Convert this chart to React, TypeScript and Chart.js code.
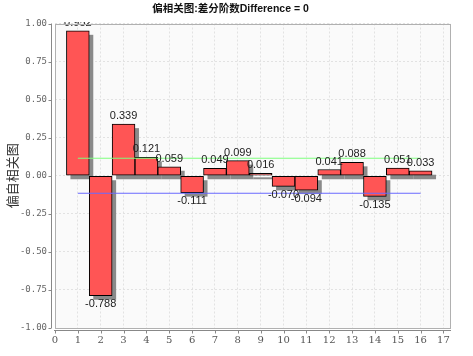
import React, { useEffect, useRef } from "react";
import { Chart, registerables } from "chart.js";

Chart.register(...registerables);

const TITLE = "偏相关图:差分阶数Difference = 0";
const Y_TITLE = "偏自相关图";

const lags = [1, 2, 3, 4, 5, 6, 7, 8, 9, 10, 11, 12, 13, 14, 15, 16];
const pacf = [0.952, -0.788, 0.339, 0.121, 0.059, -0.111, 0.049, 0.099, 0.016, -0.07, -0.094, 0.041, 0.088, -0.135, 0.051, 0.033];
const upperBound = 0.115;
const lowerBound = -0.115;
const boundLags = [1, 16];

const xMin = 0;
const xMax = 17.33;
const yMin = -1;
const yMax = 1;
const yStep = 0.25;

const bgPlugin = {
  id: "bgPlugin",
  beforeDraw(chart: any) {
    const { ctx, chartArea: a, width, height } = chart;
    ctx.save();
    ctx.fillStyle = "#ffffff";
    ctx.fillRect(0, 0, width, height);
    ctx.fillStyle = "#fafafa";
    ctx.fillRect(a.left, a.top, a.right - a.left, a.bottom - a.top);
    ctx.restore();
  },
};

const shadowPlugin = {
  id: "shadowPlugin",
  beforeDatasetDraw(chart: any, args: any) {
    if (args.index !== 0) return;
    const { ctx, chartArea: a } = chart;
    const meta = chart.getDatasetMeta(0);
    ctx.save();
    ctx.beginPath();
    ctx.rect(a.left, a.top, a.right - a.left + 6, a.bottom - a.top + 6);
    ctx.clip();
    ctx.fillStyle = "#8a8a8a";
    meta.data.forEach((el: any) => {
      const p = el.getProps(["x", "y", "base", "width"], true);
      const left = p.x - p.width / 2;
      const top = Math.min(p.y, p.base);
      const h = Math.abs(p.base - p.y);
      ctx.fillRect(left + 4, top + 4, p.width, h);
    });
    ctx.restore();
  },
};

const labelPlugin = {
  id: "labelPlugin",
  afterDatasetsDraw(chart: any) {
    const { ctx, chartArea: a, width, height } = chart;
    const meta = chart.getDatasetMeta(0);
    ctx.save();
    ctx.beginPath();
    ctx.rect(0, a.top - 1.5, width, height);
    ctx.clip();
    ctx.font = "11px 'Liberation Sans', Arial, sans-serif";
    ctx.fillStyle = "#222";
    ctx.textAlign = "center";
    meta.data.forEach((el: any, i: number) => {
      const v = pacf[i];
      const p = el.getProps(["x", "y"], true);
      if (v >= 0) {
        ctx.textBaseline = "bottom";
        ctx.fillText(v.toFixed(3), p.x, p.y - 2.5);
      } else {
        ctx.textBaseline = "top";
        ctx.fillText(v.toFixed(3), p.x, p.y + 3);
      }
    });
    ctx.restore();
  },
  afterDraw(chart: any) {
    const { ctx, chartArea: a } = chart;
    ctx.save();
    ctx.lineWidth = 1;
    ctx.strokeStyle = "#b0b0b0";
    ctx.strokeRect(Math.round(a.left) + 0.5, Math.round(a.top) + 0.5, Math.round(a.right - a.left) - 1, Math.round(a.bottom - a.top) - 1);
    ctx.strokeStyle = "#888888";
    const ax = Math.round(a.left) - 3.5;
    const ay = Math.round(a.bottom) + 2.5;
    ctx.beginPath();
    ctx.moveTo(ax, a.top);
    ctx.lineTo(ax, a.bottom);
    ctx.moveTo(a.left - 1, ay);
    ctx.lineTo(a.right, ay);
    const ys = chart.scales.y;
    ys.ticks.forEach((t: any) => {
      const py = Math.round(ys.getPixelForValue(t.value)) + 0.5;
      ctx.moveTo(ax - 3, py);
      ctx.lineTo(ax, py);
    });
    const xs = chart.scales.x;
    xs.ticks.forEach((t: any) => {
      const px = Math.round(xs.getPixelForValue(t.value)) + 0.5;
      ctx.moveTo(px, ay);
      ctx.lineTo(px, ay + 3);
    });
    ctx.stroke();
    ctx.restore();
  },
};

export default function App() {
  const ref = useRef<HTMLCanvasElement | null>(null);

  useEffect(() => {
    if (!ref.current) return;
    const chart = new Chart(ref.current, {
      type: "bar",
      data: {
        datasets: [
          {
            type: "bar",
            label: "PACF",
            data: lags.map((x, i) => ({ x, y: pacf[i] })),
            backgroundColor: "#ff5555",
            borderColor: "#000000",
            borderWidth: 1,
            borderSkipped: false,
            barPercentage: 1,
            categoryPercentage: 1,
            order: 2,
          } as any,
          {
            type: "line",
            label: "upper",
            data: boundLags.map((x) => ({ x, y: upperBound })),
            borderColor: "#7dff7d",
            borderWidth: 1,
            pointRadius: 0,
            fill: false,
            order: 1,
          } as any,
          {
            type: "line",
            label: "lower",
            data: boundLags.map((x) => ({ x, y: lowerBound })),
            borderColor: "#6a6aff",
            borderWidth: 1,
            pointRadius: 0,
            fill: false,
            order: 1,
          } as any,
        ],
      },
      options: {
        animation: false,
        responsive: false,
        layout: { padding: { left: 0, right: 12, top: 0, bottom: 0 } },
        plugins: {
          legend: { display: false },
          tooltip: { enabled: false },
          title: {
            display: true,
            text: TITLE,
            color: "#111",
            font: { family: "'Liberation Sans', 'Noto Sans CJK SC', sans-serif", size: 10.5, weight: "bold" },
            padding: { top: 2.5, bottom: 8.4 },
          },
        },
        scales: {
          x: {
            type: "linear",
            min: xMin,
            max: xMax,
            offset: false,
            grid: { offset: false, color: "#e2e2e2", drawTicks: false },
            border: { display: false, dash: [2, 2] },
            ticks: {
              stepSize: 1,
              includeBounds: false,
              padding: 6,
              color: "#555",
              font: { family: "'DejaVu Serif', serif", size: 10 },
              maxRotation: 0,
              autoSkip: false,
            },
            afterBuildTicks(scale: any) {
              scale.ticks = scale.ticks.filter((t: any) => Number.isInteger(t.value));
            },
            afterFit(scale: any) {
              scale.height = 28;
              scale.paddingRight = 22;
              scale.paddingLeft = 0;
            },
          } as any,
          y: {
            type: "linear",
            min: yMin,
            max: yMax,
            grid: { color: "#e2e2e2", drawTicks: false },
            border: { display: false, dash: [2, 2] },
            ticks: {
              stepSize: yStep,
              padding: 8,
              color: "#666",
              font: { family: "'DejaVu Sans Mono', monospace", size: 9 },
              callback: (v: any) => Number(v).toFixed(2),
            },
            title: {
              display: true,
              text: Y_TITLE,
              color: "#333",
              font: { family: "'Noto Sans CJK SC', sans-serif", size: 13 },
              padding: { top: 4, bottom: 0 },
            },
            afterFit(scale: any) {
              scale.width = 55;
            },
          } as any,
        },
      },
      plugins: [bgPlugin, shadowPlugin, labelPlugin],
    } as any);
    return () => chart.destroy();
  }, []);

  return (
    <div style={{ position: "fixed", left: 0, top: 0, width: 473, height: 356 }}>
      <canvas ref={ref} width={473} height={356} style={{ width: 473, height: 356 }} />
    </div>
  );
}
